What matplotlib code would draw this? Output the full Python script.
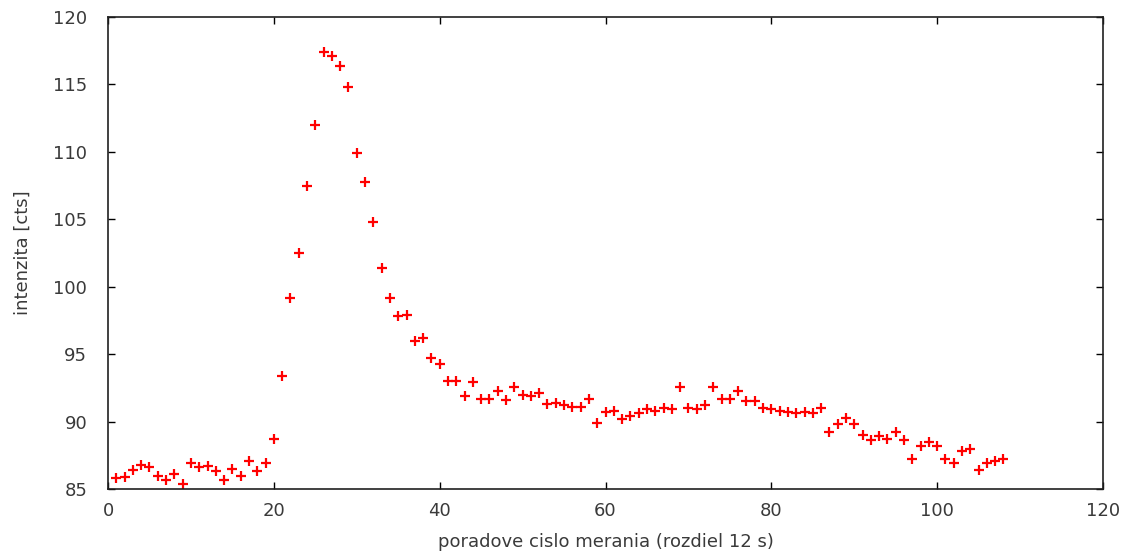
import numpy as np
import matplotlib
matplotlib.use('Agg')
import matplotlib.pyplot as plt

n = np.arange(1, 109)
intenzita = [85.8, 85.9, 86.4, 86.8, 86.6, 86.0, 85.7, 86.1, 85.4, 86.9,
             86.6, 86.7, 86.3, 85.7, 86.5, 86.0, 87.1, 86.3, 86.9, 88.7,
             93.4, 99.2, 102.5, 107.5, 112.0, 117.4, 117.1, 116.4, 114.8, 109.9,
             107.8, 104.8, 101.4, 99.2, 97.8, 97.9, 96.0, 96.2, 94.7, 94.3,
             93.0, 93.0, 91.9, 92.9, 91.7, 91.7, 92.3, 91.6, 92.6, 92.0,
             91.9, 92.1, 91.3, 91.4, 91.2, 91.1, 91.1, 91.7, 89.9, 90.7,
             90.8, 90.2, 90.4, 90.6, 90.9, 90.8, 91.0, 90.9, 92.6, 91.0,
             90.9, 91.2, 92.6, 91.7, 91.7, 92.3, 91.5, 91.5, 91.0, 90.9,
             90.8, 90.7, 90.6, 90.7, 90.6, 91.0, 89.2, 89.8, 90.3, 89.8,
             89.0, 88.6, 88.9, 88.7, 89.2, 88.6, 87.2, 88.2, 88.5, 88.2,
             87.2, 86.9, 87.8, 88.0, 86.4, 86.9, 87.1, 87.2]

plt.rcParams['font.family'] = 'DejaVu Sans'
txt = '#3a3a3a'

fig = plt.figure(figsize=(11.27, 5.59), dpi=100)
ax = fig.add_axes([108/1127, 1-489/559, (1103-108)/1127, (489-17)/559])
ax.plot(n, intenzita, '+', color='red', markersize=7, markeredgewidth=1.6)

ax.set_xlim(0, 120)
ax.set_ylim(85, 120)
ax.set_xticks(np.arange(0, 121, 20))
ax.set_yticks(np.arange(85, 121, 5))
ax.tick_params(direction='in', top=True, right=True, length=5, width=1,
               labelsize=13, labelcolor=txt)
ax.tick_params(axis='y', pad=15)
ax.tick_params(axis='x', pad=9)
for s in ax.spines.values():
    s.set_linewidth(1.2)
    s.set_color('#202020')
ax.set_xlabel('poradove cislo merania (rozdiel 12 s)', fontsize=13, color=txt, labelpad=10)
ax.set_ylabel('intenzita [cts]', fontsize=13, color=txt, labelpad=15)

fig.savefig('out.png', dpi=100)
